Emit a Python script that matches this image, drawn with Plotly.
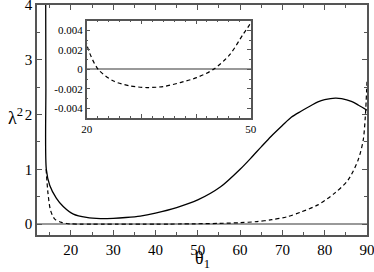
import plotly.graph_objects as go

# Solid curve (lambda^2, branch 1)
solid_theta = [14.05, 14.1, 14.2, 15.0, 16.6, 18.2, 20.6, 23.7, 27.0, 30.0, 33.0, 36.4, 40.0,
               45.0, 50.0, 55.4, 60.0, 62.5, 65.0, 67.3, 70.0, 72.1, 74.4, 76.9, 78.4,
               80.0, 82.5, 84.0, 86.3, 88.0, 90.0]
solid_lam2 = [4.3, 2.5, 1.0, 0.71, 0.47, 0.32, 0.18, 0.12, 0.10, 0.105, 0.12, 0.146, 0.20,
              0.30, 0.44, 0.68, 1.0, 1.2, 1.41, 1.6, 1.8, 1.95, 2.06, 2.17, 2.23,
              2.27, 2.30, 2.29, 2.24, 2.17, 2.08]

# Dashed curve (lambda^2, branch 2)
dash_theta = [14.15, 14.6, 15.2, 16.2, 17.8, 19.0, 20.0, 22.1, 24.9, 27.9, 31.0, 34.0, 37.1,
              40.1, 43.2, 46.2, 48.6, 50.0, 55.0, 60.0, 64.0, 67.5, 71.0, 74.4, 78.4, 82.3,
              85.5, 87.9, 89.1, 89.6, 90.0]
dash_lam2 = [1.0, 0.56, 0.25, 0.09, 0.03, 0.01, 0.0026, 0.0, -0.0012, -0.0017, -0.00187,
             -0.00177, -0.00136, -0.00085, 0.0, 0.00153, 0.0036, 0.0048, 0.012, 0.025, 0.045,
             0.08, 0.13, 0.22, 0.35, 0.56, 0.80, 1.17, 1.53, 1.96, 2.6]

main_xticks = [20, 30, 40, 50, 60, 70, 80, 90]
main_yticks = [0, 1, 2, 3, 4]
inset_xticks = [20, 30, 40, 50]
inset_xlabels = ["20", "", "", "50"]
inset_yticks = [0.004, 0.002, 0, -0.002, -0.004]
inset_ylabels = ["0.004", "0.002", "0", "-0.002", "-0.004"]

FONT = "'Liberation Serif', 'DejaVu Serif', serif"
FRAME = "#555555"
ZERO = "#999999"

W, H = 374, 272
ML, MR, MT, MB = 37, 7, 5, 37
PW, PH = W - ML - MR, H - MT - MB


def px_x(px):
    return (px - ML) / PW


def px_y(py):
    return (H - MB - py) / PH


fig = go.Figure()
fig.add_trace(go.Scatter(x=solid_theta, y=solid_lam2, mode="lines",
                         line=dict(color="black", width=1.3, shape="spline", smoothing=0.8),
                         xaxis="x", yaxis="y", showlegend=False))
fig.add_trace(go.Scatter(x=dash_theta, y=dash_lam2, mode="lines",
                         line=dict(color="black", width=1.2, dash="4px,3px", shape="spline", smoothing=0.8),
                         xaxis="x", yaxis="y", showlegend=False))
fig.add_trace(go.Scatter(x=dash_theta, y=dash_lam2, mode="lines",
                         line=dict(color="black", width=1.2, dash="4px,3px", shape="spline", smoothing=0.8),
                         xaxis="x2", yaxis="y2", showlegend=False))

axis_common = dict(showline=True, linecolor=FRAME, linewidth=1.5, mirror="ticks",
                   ticks="inside", tickcolor=FRAME, showgrid=False, automargin=False,
                   ticklabeloverflow="allow")

fig.update_layout(
    width=W, height=H,
    margin=dict(l=ML, r=MR, t=MT, b=MB, autoexpand=False),
    paper_bgcolor="white", plot_bgcolor="white",
    font=dict(family=FONT, color="black"),
    xaxis=dict(range=[12, 90], tickvals=main_xticks, ticklen=5, tickwidth=1,
               tickfont=dict(size=15, family=FONT),
               minor=dict(dtick=5, tick0=0, ticklen=3, ticks="inside", tickcolor=FRAME),
               zeroline=False, **axis_common),
    yaxis=dict(range=[-0.2, 4], tickvals=main_yticks, ticklen=5, tickwidth=1,
               tickfont=dict(size=15, family=FONT),
               minor=dict(dtick=0.5, tick0=0, ticklen=3, ticks="inside", tickcolor=FRAME),
               zeroline=True, zerolinecolor=ZERO, zerolinewidth=1.5, **axis_common),
    xaxis2=dict(domain=[px_x(86.7), px_x(250.7)], anchor="y2", range=[20, 50], tickvals=inset_xticks,
                ticktext=inset_xlabels, ticklen=4, tickwidth=1,
                tickfont=dict(size=11, family=FONT),
                minor=dict(dtick=2, tick0=0, ticklen=2, ticks="inside", tickcolor=FRAME),
                zeroline=False, **axis_common),
    yaxis2=dict(domain=[px_y(118), px_y(20.7)], anchor="x2", range=[-0.005, 0.005], tickvals=inset_yticks,
                ticktext=inset_ylabels, ticklen=4, tickwidth=1,
                tickfont=dict(size=11, family=FONT),
                minor=dict(dtick=0.001, tick0=0, ticklen=2, ticks="inside", tickcolor=FRAME),
                zeroline=True, zerolinecolor=ZERO, zerolinewidth=1.5, **axis_common),
    annotations=[
        dict(text="λ<sup>2</sup>", x=px_x(15), y=px_y(116), xref="paper", yref="paper",
             showarrow=False, font=dict(size=18, family=FONT), xanchor="center", yanchor="middle"),
        dict(text="θ<sub>1</sub>", x=px_x(202), y=px_y(272), xref="paper", yref="paper",
             showarrow=False, font=dict(size=18, family=FONT), xanchor="center", yanchor="bottom",
             borderpad=0),
    ],
)

fig.write_html(
    "out.html",
    config={"displayModeBar": False},
    post_script="document.body.style.margin='0';document.body.style.overflow='hidden';",
)
